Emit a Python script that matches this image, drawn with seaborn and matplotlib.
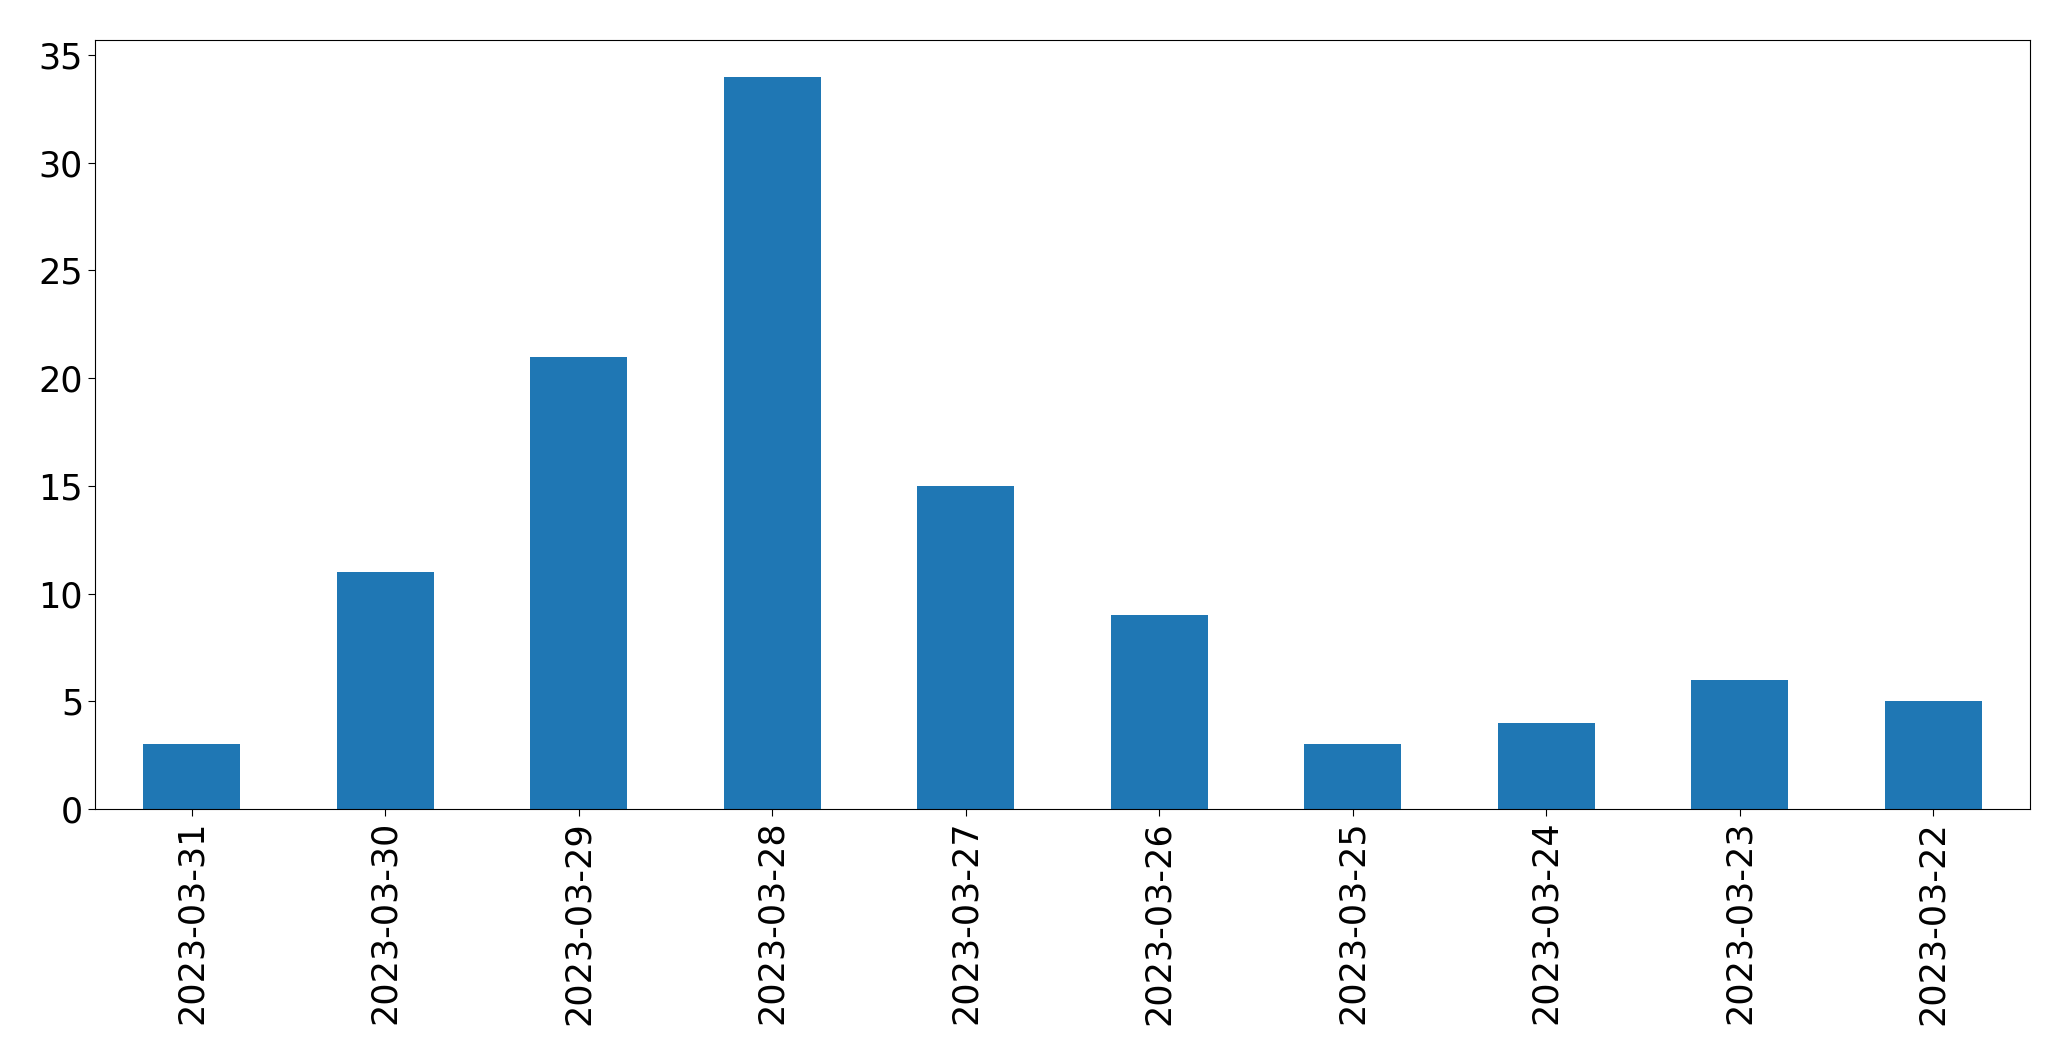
import matplotlib
matplotlib.use("Agg")
import matplotlib.pyplot as plt
import seaborn as sns
import pandas as pd

# 每日数量
dates = ["2023-03-31", "2023-03-30", "2023-03-29", "2023-03-28", "2023-03-27",
         "2023-03-26", "2023-03-25", "2023-03-24", "2023-03-23", "2023-03-22"]
counts = [3, 11, 21, 34, 15, 9, 3, 4, 6, 5]

df = pd.DataFrame({"date": dates, "count": counts})

fig = plt.figure(figsize=(20.71, 10.61), dpi=100)
ax = fig.add_axes([95 / 2071, 1 - 809 / 1061, (2030 - 95) / 2071, (809 - 40) / 1061])

sns.barplot(data=df, x="date", y="count", order=dates, width=0.5,
            color="#1f77b4", saturation=1, ax=ax)

ax.set_xlim(-0.5, len(dates) - 0.5)
ax.set_ylim(0, max(counts) * 1.05)
ax.set_xlabel("")
ax.set_ylabel("")
ax.tick_params(axis="both", labelsize=25.2, length=5)
plt.setp(ax.get_xticklabels(), rotation=90)

fig.savefig("out.png", dpi=100)
